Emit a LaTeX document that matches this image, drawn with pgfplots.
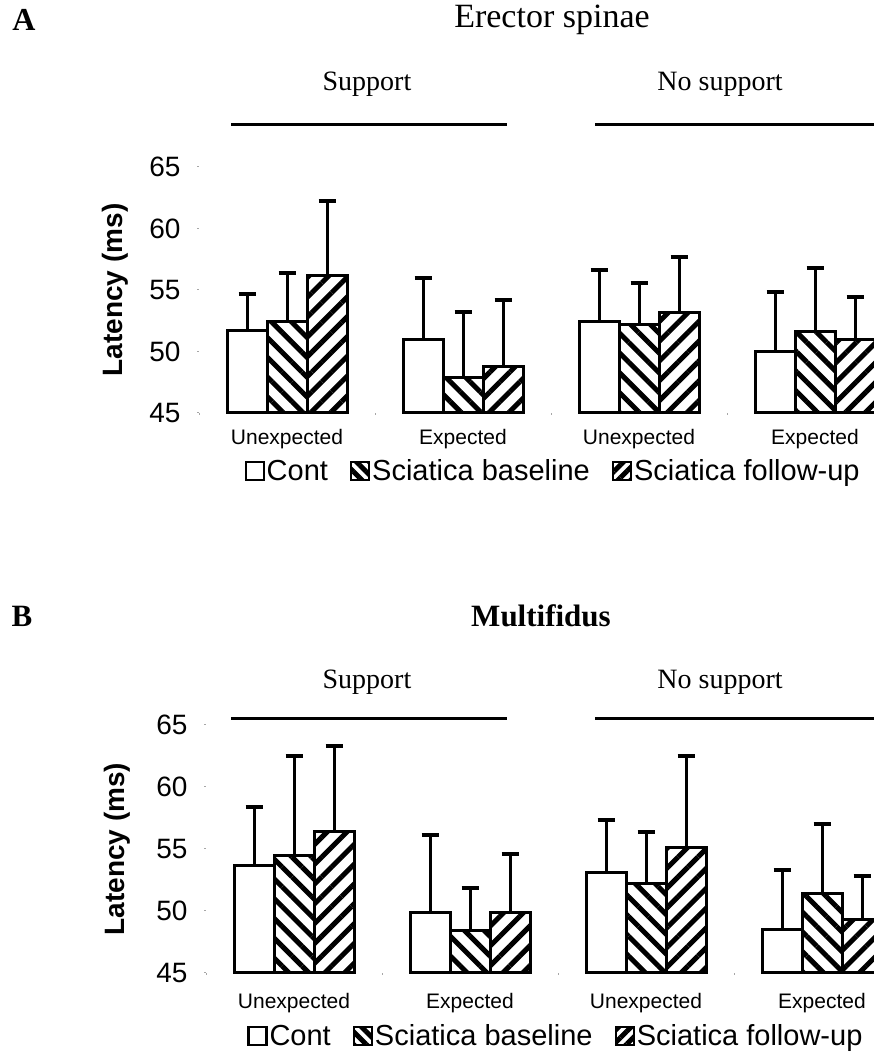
\documentclass[border=0pt]{standalone}
\usepackage{fontspec}
\setmainfont{Liberation Serif}
\setsansfont{Liberation Sans}
\usepackage{pgfplots}
\pgfplotsset{compat=1.18}
\usetikzlibrary{patterns.meta}

\pgfplotsset{
 panel/.style={
  scale only axis, width=704pt,
  xmin=-0.5, xmax=3.5, ymin=45, ymax=65,
  y coord trafo/.code={\pgfmathparse{##1-45}},
  y coord inv trafo/.code={\pgfmathparse{##1+45}},
  ybar=0pt, bar width=40pt,
  clip=false,
  axis lines=left, axis line style={draw=none},
  tick align=outside, major tick length=2pt, minor tick length=2pt,
  tick style={gray!70, line width=1pt},
  ytick={45,50,55,60,65},
  xtick={0,1,2,3}, xticklabels={Unexpected,Expected,Unexpected,Expected},
  major x tick style={draw=none},
  minor xtick={-0.5,0.5,1.5,2.5},
  /pgf/number format/assume math mode=true,
  yticklabel style={font=\fontsize{28}{32}\selectfont\sffamily, xshift=-13pt},
  xticklabel style={font=\fontsize{21}{25}\selectfont\sffamily, yshift=-11pt},
  ylabel={Latency (ms)},
  ylabel style={font=\fontsize{28}{32}\selectfont\sffamily\bfseries, at={(axis description cs:0,0.5)}, anchor=center},
  legend style={draw=none, fill=none, legend columns=3, font=\fontsize{29}{33}\selectfont\sffamily, anchor=center,
    nodes={inner xsep=2pt},
    /tikz/every even column/.append style={column sep=20pt}},
  every axis plot post/.append style={legend image code/.code={\draw[##1,line width=2.2pt] (2pt,-9pt) rectangle (20pt,9pt);}},
  error bars/y dir=plus, error bars/y explicit,
  error bars/error bar style={line width=3pt, black},
  error bars/error mark options={rotate=90, line width=4pt, mark size=8.5pt, black},
 },
 cont/.style={draw=black, line width=3pt, fill=white},
 base/.style={draw=black, line width=3pt, pattern={Lines[angle=-45,distance=14pt,line width=5pt]}, pattern color=black,
   legend image post style={pattern={Lines[angle=-45,distance=9pt,line width=5pt]}}},
 foll/.style={draw=black, line width=3pt, pattern={Lines[angle=45,distance=14pt,line width=5pt]}, pattern color=black,
   legend image post style={pattern={Lines[angle=45,distance=9pt,line width=5pt]}}},
}

\begin{document}
\begin{tikzpicture}
\useasboundingbox (0,0) rectangle (874pt,1060pt);
\clip (0,0) rectangle (874pt,1060pt);
% ---------- Panel A ----------
\node[font=\fontsize{32}{36}\selectfont\bfseries] at (24pt,1040pt) {A};
\node[font=\fontsize{34}{38}\selectfont] at (552pt,1040pt) {Erector spinae};
\node[font=\fontsize{28}{32}\selectfont] at (367pt,976pt) {Support};
\node[font=\fontsize{28}{32}\selectfont] at (720pt,976pt) {No support};
\draw[line width=3pt] (231pt,935pt) -- (507pt,935pt);
\draw[line width=3pt] (595pt,935pt) -- (880pt,935pt);
\begin{axis}[panel, at={(199pt,647pt)}, anchor=south west, height=246pt,
  ylabel style={yshift=84pt},
  legend style={at={(axis description cs:0.503,-0.236)}}]
\addplot[cont] coordinates {(0,51.7) +- (0,2.95) (1,51.0) +- (0,5.0) (2,52.4) +- (0,4.2) (3,50.0) +- (0,4.8)};
\addplot[base] coordinates {(0,52.4) +- (0,4.0) (1,47.9) +- (0,5.3) (2,52.2) +- (0,3.4) (3,51.65) +- (0,5.15)};
\addplot[foll] coordinates {(0,56.2) +- (0,6.0) (1,48.8) +- (0,5.4) (2,53.2) +- (0,4.5) (3,51.0) +- (0,3.4)};
\legend{Cont, Sciatica baseline, Sciatica follow-up}
\end{axis}
% ---------- Panel B ----------
\node[font=\fontsize{31}{35}\selectfont\bfseries] at (22pt,444pt) {B};
\node[font=\fontsize{31}{35}\selectfont\bfseries] at (541pt,444pt) {Multifidus};
\node[font=\fontsize{28}{32}\selectfont] at (367pt,378pt) {Support};
\node[font=\fontsize{28}{32}\selectfont] at (720pt,378pt) {No support};
\draw[line width=3pt] (231pt,341pt) -- (507pt,341pt);
\draw[line width=3pt] (595pt,341pt) -- (880pt,341pt);
\begin{axis}[panel, at={(206pt,87pt)}, anchor=south west, height=248pt,
  ylabel style={yshift=89pt},
  xticklabel style={yshift=-4pt},
  legend style={at={(axis description cs:0.497,-0.254)}}]
\addplot[cont] coordinates {(0,53.7) +- (0,4.7) (1,49.9) +- (0,6.2) (2,53.1) +- (0,4.2) (3,48.5) +- (0,4.8)};
\addplot[base] coordinates {(0,54.5) +- (0,8.0) (1,48.4) +- (0,3.45) (2,52.2) +- (0,4.2) (3,51.45) +- (0,5.55)};
\addplot[foll] coordinates {(0,56.4) +- (0,6.9) (1,49.9) +- (0,4.7) (2,55.1) +- (0,7.4) (3,49.3) +- (0,3.5)};
\legend{Cont, Sciatica baseline, Sciatica follow-up}
\end{axis}
\end{tikzpicture}
\end{document}
